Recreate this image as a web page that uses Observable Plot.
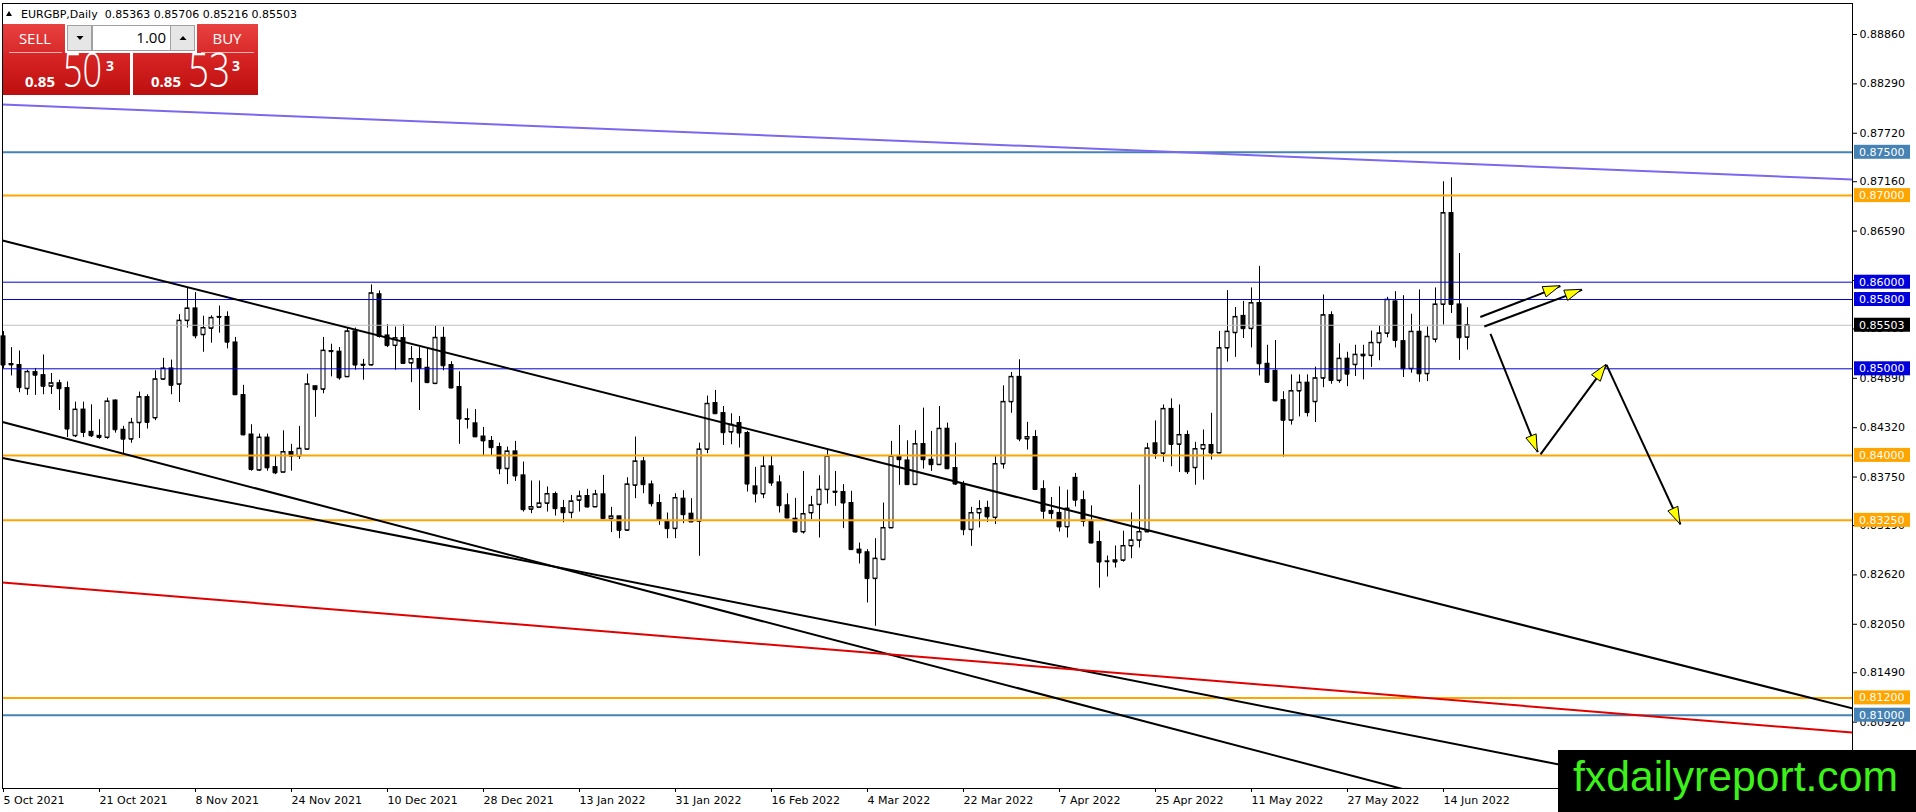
<!DOCTYPE html>
<html><head><meta charset="utf-8">
<script src="https://cdn.jsdelivr.net/npm/d3@7"></script>
<script src="https://cdn.jsdelivr.net/npm/@observablehq/plot@0.6"></script>
<style>
body{margin:0;background:#fff;overflow:hidden}
#wrap{position:relative;width:1916px;height:812px}
</style></head><body><div id="wrap"></div>
<script>
// ---------- DATA ----------
const symbol = "EURGBP,Daily";
const open = [0.85374,0.85055,0.85043,0.84770,0.84961,0.84926,0.84798,0.84833,0.84778,0.84226,0.84529,0.84272,0.84226,0.84206,0.84634,0.84296,0.84187,0.84377,0.84673,0.84432,0.84879,0.85004,0.84821,0.85556,0.85697,0.85393,0.85467,0.85599,0.85599,0.85304,0.84696,
0.84241,0.83829,0.84206,0.83864,0.83805,0.84039,0.83992,0.84070,0.84798,0.84763,0.85205,0.85198,0.84907,0.85432,0.85040,0.85043,0.85860,0.85385,0.85268,0.85354,0.85066,0.85113,0.85012,0.84829,0.85358,0.85043,0.84790,0.84420,0.84370,0.84218,0.84167,
0.84096,0.83846,0.84046,0.83769,0.83377,0.83400,0.83446,0.83554,0.83392,0.83338,0.83481,0.83531,0.83404,0.83550,0.83269,0.83296,0.83135,0.83654,0.83931,0.83665,0.83450,0.83231,0.83154,0.83500,0.83327,0.83238,0.84069,0.84604,0.84488,0.84269,
0.84373,0.84258,0.83642,0.83554,0.83873,0.83688,0.83423,0.83269,0.83115,0.83335,0.83431,0.83604,0.83581,0.83577,0.83450,0.82912,0.82881,0.82577,0.82796,0.83162,0.83988,0.83942,0.83662,0.84131,0.83950,0.83892,0.84308,0.83854,0.83662,0.83142,0.83335,
0.83394,0.83282,0.83900,0.84618,0.84907,0.84189,0.84212,0.83610,0.83359,0.83336,0.83174,0.83741,0.83483,0.83239,0.83000,0.82776,0.82788,0.82788,0.82954,0.83019,0.83116,0.84139,0.84023,0.84537,0.84127,0.84236,0.83857,0.84073,0.84120,0.84027,0.85239,
0.85416,0.85611,0.85463,0.85759,0.85058,0.84977,0.84638,0.84405,0.84743,0.84840,0.84619,0.84891,0.85619,0.84864,0.85117,0.85047,0.85163,0.85152,0.85300,0.85409,0.85778,0.85319,0.85000,0.85428,0.84942,0.85339,0.85743,0.86798,0.85743,0.85363];
const high = [0.85430,0.85245,0.85206,0.84984,0.85004,0.85160,0.84946,0.84868,0.84848,0.84615,0.84615,0.84584,0.84412,0.84661,0.84640,0.84335,0.84428,0.84731,0.84700,0.84977,0.85121,0.85101,0.85626,0.85938,0.85879,0.85607,0.85611,0.85724,0.85658,0.85362,0.84809,
0.84354,0.84245,0.84245,0.83992,0.84284,0.84128,0.84335,0.84938,0.84798,0.85362,0.85284,0.85245,0.85471,0.85471,0.85109,0.85969,0.85899,0.85510,0.85482,0.85510,0.85257,0.85245,0.85245,0.85490,0.85479,0.85082,0.84965,0.84537,0.84529,0.84323,0.84218,
0.84142,0.84096,0.84162,0.83923,0.83704,0.83704,0.83635,0.83577,0.83481,0.83538,0.83588,0.83608,0.83596,0.83769,0.83400,0.83296,0.83742,0.84212,0.83977,0.83704,0.83546,0.83335,0.83558,0.83592,0.83500,0.84142,0.84685,0.84750,0.84565,0.84481,
0.84450,0.84277,0.83862,0.83988,0.83988,0.83765,0.83558,0.83504,0.83815,0.83527,0.83765,0.84065,0.83815,0.83662,0.83585,0.82988,0.82912,0.83038,0.83450,0.84162,0.84346,0.84169,0.84285,0.84546,0.84277,0.84565,0.84373,0.84142,0.83700,0.83400,0.83477,
0.83471,0.83985,0.84803,0.84958,0.85104,0.84382,0.84286,0.83707,0.83514,0.83637,0.83598,0.83792,0.83587,0.83417,0.83124,0.82838,0.82954,0.83124,0.83336,0.83656,0.84139,0.84398,0.84583,0.84653,0.84583,0.84282,0.84151,0.84293,0.84486,0.85432,0.85903,
0.85708,0.85778,0.85934,0.86183,0.85272,0.85327,0.84735,0.84930,0.84930,0.84930,0.85019,0.85852,0.85658,0.85288,0.85191,0.85272,0.85272,0.85436,0.85494,0.85825,0.85891,0.85844,0.85630,0.85911,0.85482,0.85934,0.87160,0.87206,0.86331,0.85706];
const low = [0.85000,0.84918,0.84724,0.84693,0.84693,0.84700,0.84704,0.84518,0.84206,0.84206,0.84206,0.84206,0.84187,0.84187,0.84257,0.84012,0.84140,0.84195,0.84304,0.84401,0.84870,0.84700,0.84611,0.85471,0.85346,0.85191,0.85296,0.85412,0.85230,0.84693,0.84226,
0.83817,0.83817,0.83817,0.83778,0.83805,0.83817,0.83953,0.84070,0.84440,0.84712,0.84907,0.84868,0.84907,0.84984,0.84868,0.85031,0.85354,0.85245,0.84984,0.85051,0.84840,0.84518,0.84829,0.84817,0.84977,0.84770,0.84128,0.84304,0.84206,0.84000,0.83992,
0.83777,0.83662,0.83700,0.83346,0.83327,0.83400,0.83346,0.83300,0.83223,0.83269,0.83346,0.83392,0.83404,0.83262,0.83108,0.83038,0.83123,0.83500,0.83558,0.83404,0.83192,0.83038,0.83038,0.83212,0.83223,0.82835,0.84019,0.84481,0.84115,0.84123,
0.84085,0.83577,0.83450,0.83500,0.83642,0.83335,0.83269,0.83104,0.83092,0.83258,0.83046,0.83438,0.83412,0.83154,0.82912,0.82746,0.82296,0.82027,0.82785,0.83162,0.83654,0.83662,0.83662,0.83842,0.83815,0.83885,0.83835,0.83654,0.83073,0.82950,0.83162,
0.83224,0.83201,0.83842,0.84486,0.84158,0.84062,0.83606,0.83263,0.83263,0.83116,0.83046,0.83405,0.83174,0.82981,0.82467,0.82595,0.82699,0.82768,0.82807,0.82931,0.83108,0.83954,0.83919,0.83869,0.83803,0.83780,0.83656,0.83714,0.83946,0.84027,0.85077,
0.85132,0.85350,0.85241,0.84918,0.84833,0.84619,0.83980,0.84350,0.84444,0.84444,0.84380,0.84782,0.84821,0.84833,0.84794,0.84911,0.84872,0.85016,0.85093,0.85358,0.85241,0.84899,0.84949,0.84844,0.84852,0.85300,0.85506,0.85638,0.85097,0.85216];
const close = [0.85043,0.85045,0.84782,0.84965,0.84926,0.84798,0.84833,0.84770,0.84304,0.84529,0.84265,0.84226,0.84206,0.84623,0.84296,0.84187,0.84377,0.84673,0.84381,0.84879,0.85004,0.84809,0.85556,0.85697,0.85381,0.85471,0.85588,0.85595,0.85307,0.84700,0.84237,
0.83837,0.84206,0.83856,0.83798,0.84039,0.83992,0.84078,0.84821,0.84759,0.85210,0.85198,0.84895,0.85432,0.85043,0.85047,0.85872,0.85374,0.85268,0.85354,0.85062,0.85113,0.85004,0.84840,0.85358,0.85035,0.84778,0.84420,0.84416,0.84214,0.84167,0.84089,
0.83846,0.84046,0.83762,0.83373,0.83404,0.83446,0.83554,0.83385,0.83338,0.83469,0.83527,0.83404,0.83550,0.83269,0.83296,0.83135,0.83665,0.83931,0.83662,0.83442,0.83250,0.83154,0.83508,0.83315,0.83231,0.84069,0.84596,0.84481,0.84262,0.84354,
0.84258,0.83669,0.83554,0.83873,0.83681,0.83419,0.83277,0.83115,0.83323,0.83423,0.83604,0.83988,0.83573,0.83450,0.82912,0.82873,0.82577,0.82808,0.83162,0.83988,0.83950,0.83662,0.84131,0.83950,0.83892,0.84308,0.83846,0.83669,0.83142,0.83335,0.83381,
0.83290,0.83900,0.84618,0.84907,0.84189,0.84212,0.83606,0.83355,0.83328,0.83174,0.83386,0.83483,0.83239,0.82988,0.82768,0.82772,0.82768,0.82954,0.83019,0.83116,0.84081,0.84023,0.84537,0.84127,0.84236,0.83811,0.84073,0.84120,0.84027,0.85239,0.85429,
0.85599,0.85463,0.85759,0.85058,0.84844,0.84630,0.84405,0.84743,0.84840,0.84494,0.84891,0.85619,0.84864,0.85117,0.84938,0.85163,0.85148,0.85300,0.85409,0.85798,0.85327,0.85000,0.85428,0.84942,0.85370,0.85743,0.86798,0.85743,0.85358,0.85503];

const dateTickBars = [0,12,24,36,48,60,72,84,96,108,120,132,144,156,168,180];
const dateLabels = ["5 Oct 2021","21 Oct 2021","8 Nov 2021","24 Nov 2021","10 Dec 2021","28 Dec 2021","13 Jan 2022","31 Jan 2022","16 Feb 2022","4 Mar 2022","22 Mar 2022","7 Apr 2022","25 Apr 2022","11 May 2022","27 May 2022","14 Jun 2022"];
const priceTicks = [0.88860,0.88290,0.87720,0.87160,0.86590,0.86020,0.85460,0.84890,0.84320,0.83750,0.83190,0.82620,0.82050,0.81490,0.80920];

const levels = [0.87500,0.87000,0.86000,0.85800,0.85000,0.84000,0.83250,0.81200,0.81000];
const levelKind = ["steel","orange","blue","blue","blue","orange","orange","orange","steel"];
const bid = 0.85503, ask = 0.85533, lots = "1.00";

// trend lines (bar index, price)
const trendStartBar = [-0.125,-0.125,-0.125,-0.125,-0.125];
const trendStartPrice = [0.88052,0.86482,0.84386,0.83971,0.82532];
const trendEndBar = [231.125,231.125,231.125,231.125,231.125];
const trendEndPrice = [0.87186,0.81078,0.78786,0.79763,0.80800];
const trendKind = ["purple","black","black","black","red"];

// forecast arrows
const arrowFromBar = [184.6,185.1,185.875,192.125,200.375];
const arrowFromPrice = [0.85598,0.85488,0.85404,0.84011,0.85046];
const arrowToBar = [194.625,197.33,191.79,200.375,209.625];
const arrowToPrice = [0.85954,0.85912,0.84037,0.85046,0.83202];

// ---------- STYLES ----------
const colorOf = {steel:"#4682B4", orange:"#FFA500", blue:"#0000DD", purple:"#7B68EE", black:"#000000", red:"#E00000"};
const widthOf = {steel:2, orange:2, blue:1, purple:2, black:2, red:2};
const FONT = "DejaVu Sans, Verdana, sans-serif";

const bars = open.map((o,i)=>({k:i, o, h:high[i], l:low[i], c:close[i]}));
const lvl = levels.map((p,i)=>({p, kind:levelKind[i]}));
const trends = trendStartBar.map((b,i)=>({x1:b, y1:trendStartPrice[i], x2:trendEndBar[i], y2:trendEndPrice[i], kind:trendKind[i]}));
const arrows = arrowFromBar.map((b,i)=>({x1:b, y1:arrowFromPrice[i], x2:arrowToBar[i], y2:arrowToPrice[i]}));
const labelOf = new Map(dateTickBars.map((b,i)=>[b, dateLabels[i]]));

const plot = Plot.plot({
  width:1916, height:812,
  marginLeft:2, marginRight:64, marginTop:3, marginBottom:24,
  style:{fontFamily:FONT, fontSize:"11px", background:"white", color:"black", overflow:"visible"},
  x:{type:"linear", domain:[-0.125,231.125], axis:null},
  y:{type:"linear", domain:[0.801536,0.892182], axis:null},
  marks:[
    Plot.axisY({anchor:"right", ticks:priceTicks, tickFormat:d=>d.toFixed(5), tickSize:4, tickPadding:3, fontSize:11, label:null, stroke:"black"}),
    Plot.axisX({anchor:"bottom", ticks:dateTickBars, tickFormat:d=>labelOf.get(d), tickSize:4, tickPadding:4, fontSize:11, textAnchor:"start", label:null}),
    // candles
    Plot.ruleX(bars, {x:"k", y1:"l", y2:"h", stroke:"black", strokeWidth:1}),
    Plot.rect(bars, {x1:d=>d.k-0.25, x2:d=>d.k+0.25, y1:"o", y2:"c", fill:d=>d.c>=d.o?"white":"black", stroke:"black", strokeWidth:1}),
    Plot.ruleY(bars, {y:"c", x1:d=>d.k-0.25, x2:d=>d.k+0.25, stroke:"black"}),
    Plot.ruleY(bars, {y:"o", x1:d=>d.k-0.25, x2:d=>d.k+0.25, stroke:"black"}),
    // bid line
    Plot.ruleY([bid], {stroke:"#C0C0C0", strokeWidth:1}),
    // horizontal levels
    Plot.ruleY(lvl, {y:"p", stroke:d=>colorOf[d.kind], strokeWidth:d=>widthOf[d.kind]}),
    // trend lines
    Plot.link(trends, {x1:"x1", y1:"y1", x2:"x2", y2:"y2", stroke:d=>colorOf[d.kind], strokeWidth:d=>widthOf[d.kind], clip:true}),
    // arrow shafts
    Plot.link(arrows, {x1:"x1", y1:"y1", x2:"x2", y2:"y2", stroke:"black", strokeWidth:2}),
    Plot.frame({stroke:"black"})
  ]
});
document.getElementById("wrap").appendChild(plot);

const xs = plot.scale("x"), ys = plot.scale("y");
const svg = d3.select(plot);

// arrowheads
arrows.forEach(a=>{
  const fx = xs.apply(a.x1), fy = ys.apply(a.y1), tx = xs.apply(a.x2), ty = ys.apply(a.y2);
  const dx = tx-fx, dy = ty-fy, L = Math.hypot(dx,dy), ux = dx/L, uy = dy/L;
  const len = 17, w = 5.5, bx = tx-ux*len, by = ty-uy*len;
  svg.append("polygon")
    .attr("points", `${tx},${ty} ${bx-uy*w},${by+ux*w} ${bx+uy*w},${by-ux*w}`)
    .attr("fill","#FFFF00").attr("stroke","black").attr("stroke-width",1);
});

// right-axis price boxes
const boxes = lvl.map(d=>({p:d.p, col:colorOf[d.kind]})).concat([{p:bid, col:"#000000"}]);
boxes.forEach(b=>{
  const y = ys.apply(b.p);
  svg.append("rect").attr("x",1854).attr("y",y-7).attr("width",56).attr("height",14).attr("fill",b.col);
  svg.append("text").attr("x",1859).attr("y",y).attr("dy","0.36em").attr("text-anchor","start")
    .attr("fill","white").attr("font-family",FONT).attr("font-size",11).text(b.p.toFixed(5));
});

// header
svg.append("text").attr("x",21).attr("y",18).attr("text-anchor","start").attr("font-family",FONT).attr("font-size",11).attr("fill","black")
  .style("white-space","pre")
  .text(`${symbol}  ${open[open.length-1].toFixed(5)} ${high[high.length-1].toFixed(5)} ${low[low.length-1].toFixed(5)} ${close[close.length-1].toFixed(5)}`);
svg.append("polygon").attr("points","6,16 12,16 9,11").attr("fill","black");

// one-click trading panel
const defs = svg.append("defs");
const g1 = defs.append("linearGradient").attr("id","redTop").attr("x1",0).attr("y1",0).attr("x2",0).attr("y2",1);
g1.append("stop").attr("offset","0%").attr("stop-color","#e8413f");
g1.append("stop").attr("offset","100%").attr("stop-color","#d82a2a");
const g2 = defs.append("linearGradient").attr("id","redBig").attr("x1",0).attr("y1",0).attr("x2",0).attr("y2",1);
g2.append("stop").attr("offset","0%").attr("stop-color","#d92525");
g2.append("stop").attr("offset","100%").attr("stop-color","#bd0f0f");
const P = svg.append("g");
const sellTxt = bid.toFixed(5), buyTxt = ask.toFixed(5);
P.append("rect").attr("x",3).attr("y",24).attr("width",62).attr("height",29).attr("fill","url(#redTop)");
P.append("rect").attr("x",3).attr("y",53).attr("width",127).attr("height",42).attr("fill","url(#redBig)");
P.append("rect").attr("x",197).attr("y",24).attr("width",61).attr("height",29).attr("fill","url(#redTop)");
P.append("rect").attr("x",133).attr("y",53).attr("width",125).attr("height",42).attr("fill","url(#redBig)");
P.append("line").attr("x1",9).attr("x2",62).attr("y1",52.5).attr("y2",52.5).attr("stroke","#f3b0b0");
P.append("line").attr("x1",201).attr("x2",254).attr("y1",52.5).attr("y2",52.5).attr("stroke","#f3b0b0");
P.append("rect").attr("x",67.5).attr("y",25.5).attr("width",24).attr("height",25).attr("fill","#e6e6e6").attr("stroke","#a0a0a0");
P.append("rect").attr("x",92.5).attr("y",25.5).attr("width",78).attr("height",25).attr("fill","white").attr("stroke","#a0a0a0");
P.append("rect").attr("x",170.5).attr("y",25.5).attr("width",24).attr("height",25).attr("fill","#e6e6e6").attr("stroke","#a0a0a0");
P.append("polygon").attr("points","76.5,36 83.5,36 80,40").attr("fill","black");
P.append("polygon").attr("points","179.5,40 186.5,40 183,36").attr("fill","black");
const T = (x,y,s,opts)=>{const t=P.append("text").attr("x",x).attr("y",y).attr("font-family","Open Sans, Noto Sans, sans-serif").attr("fill",opts.fill||"white").attr("font-size",opts.size).attr("font-weight",opts.weight||400).attr("text-anchor",opts.anchor||"start").text(s); if(opts.len) t.attr("textLength",opts.len).attr("lengthAdjust","spacingAndGlyphs"); return t;};
T(35,44,"SELL",{size:15,anchor:"middle"});
T(227,44,"BUY",{size:15,anchor:"middle"});
T(166,43,lots,{size:15,anchor:"end",fill:"black"});
T(25,87,sellTxt.slice(0,4),{size:15,weight:700});
T(63,87,sellTxt.slice(4,6),{size:48,weight:300,len:39});
T(106,71,sellTxt.slice(6),{size:14,weight:700});
T(151,87,buyTxt.slice(0,4),{size:15,weight:700});
T(188,87,buyTxt.slice(4,6),{size:48,weight:300,len:42});
T(232,71,buyTxt.slice(6),{size:14,weight:700});

// watermark
svg.append("rect").attr("x",1558).attr("y",750).attr("width",358).attr("height",62).attr("fill","black");
svg.append("text").attr("x",1573).attr("y",791).attr("text-anchor","start").attr("font-family","Liberation Sans, Arial, sans-serif").attr("font-size",43)
  .attr("fill","#3cf21a").attr("textLength",325).attr("lengthAdjust","spacingAndGlyphs").text("fxdailyreport.com");
</script></body></html>
